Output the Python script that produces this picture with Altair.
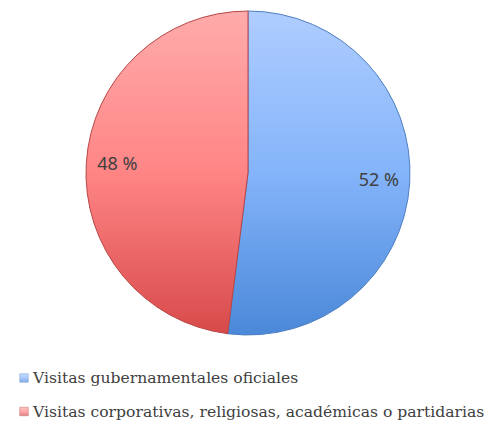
import altair as alt
import pandas as pd

categories = ["Visitas gubernamentales oficiales",
              "Visitas corporativas, religiosas, académicas o partidarias"]
values = [52, 48]
labels = ["52 %", "48 %"]
order = [0, 1]

df = pd.DataFrame({"cat": categories, "value": values, "label": labels, "ord": order})

grad_blue = {"gradient": "linear", "x1": 0, "y1": 0, "x2": 0, "y2": 1,
             "stops": [{"offset": 0, "color": "#afcdff"},
                       {"offset": 0.5, "color": "#84b4fa"},
                       {"offset": 1, "color": "#4a88d8"}]}
grad_red = {"gradient": "linear", "x1": 0, "y1": 0, "x2": 0, "y2": 1,
            "stops": [{"offset": 0, "color": "#ffabab"},
                      {"offset": 0.5, "color": "#ff8585"},
                      {"offset": 1, "color": "#d84a4a"}]}

is_blue = alt.datum.cat == categories[0]
fill = alt.condition(is_blue, alt.value(grad_blue), alt.value(grad_red))
stroke = alt.condition(is_blue, alt.value("#4f7fc0"), alt.value("#b84545"))

CX, CY, R = 240, 165, 162

base = alt.Chart(df).encode(
    theta=alt.Theta("value:Q", stack=True),
    order=alt.Order("ord:Q"),
)

arcs = base.mark_arc(outerRadius=R, strokeWidth=1).encode(
    x=alt.value(CX), y=alt.value(CY), fill=fill, stroke=stroke
)

text = base.mark_text(radius=131, font="Noto Sans", fontSize=18, color="#404040").encode(
    x=alt.value(CX), y=alt.value(CY), text="label:N"
)

ysc = alt.Scale(type="point", domain=categories, range=[370, 403.5], padding=0)

squares = alt.Chart(df).mark_square(size=72, strokeWidth=0.6).encode(
    x=alt.value(16),
    y=alt.Y("cat:N", scale=ysc, axis=None),
    fill=fill, stroke=stroke,
)

leg_text = alt.Chart(df).mark_text(align="left", baseline="middle", font="DejaVu Serif",
                                   fontSize=15.6, color="#404040").encode(
    x=alt.value(25),
    y=alt.Y("cat:N", scale=ysc, axis=None),
    text="cat:N",
)

chart = alt.layer(arcs, text, squares, leg_text).properties(
    width=477, height=413, autosize=alt.AutoSizeParams(type="none"), padding=0
).configure_view(stroke=None)

chart.save("out.html", embed_options={"renderer": "svg", "actions": False})
